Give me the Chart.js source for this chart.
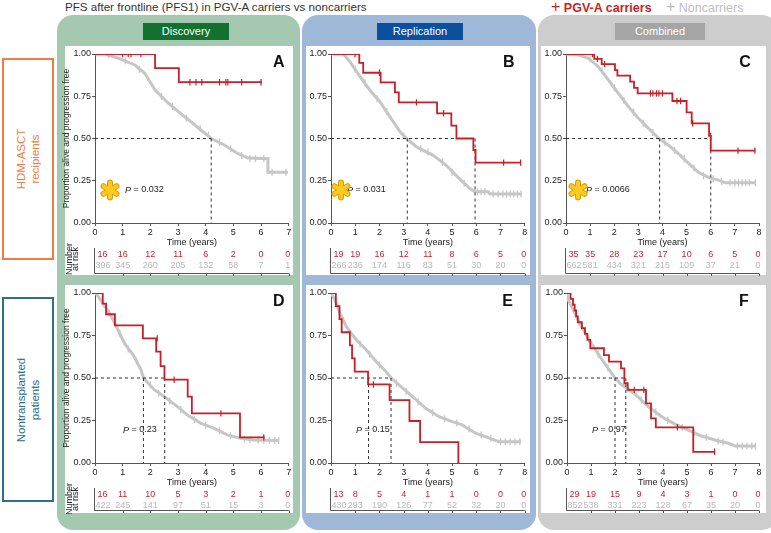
<!DOCTYPE html>
<html><head><meta charset="utf-8">
<script src="https://cdn.jsdelivr.net/npm/chart.js@4.4.1/dist/chart.umd.min.js"></script>
<style>
html,body{margin:0;padding:0;background:#fff}
body{width:771px;height:533px;position:relative;overflow:hidden;font-family:"Liberation Sans",Arial,Helvetica,sans-serif}
.col{position:absolute;top:15px;height:515px;border-radius:16px}
.hdr{position:absolute;top:23px;height:17px;color:#fff;font-size:11px;text-align:center;line-height:17px}
.wp{position:absolute;background:#fff}
.rl{position:absolute;left:2px;width:52px;box-sizing:border-box;border:2px solid}
.rl span{position:absolute;left:50%;top:50%;transform:translate(-50%,-50%) rotate(-90deg);white-space:nowrap;text-align:center;font-size:11.5px;line-height:14px}
canvas{position:absolute}
.lg{position:absolute;top:-1px;font-size:12.5px;line-height:16px;white-space:nowrap}
</style></head><body>
<div style="position:absolute;left:65px;top:0;font-size:11.6px;line-height:14px;color:#333">PFS after frontline (PFS1) in PGV-A carriers vs noncarriers</div>
<div class="lg" style="left:551px;color:#c81f26"><span style="font-size:16px">+</span> <b>PGV-A carriers</b></div>
<div class="lg" style="left:666px;color:#bdbdbd"><span style="font-size:16px">+</span> Noncarriers</div>

<div class="col" style="left:57px;width:243px;background:#a4c9b0"></div>
<div class="col" style="left:302px;width:234px;background:#a0b8d8"></div>
<div class="col" style="left:538px;width:240px;background:#cdcdcd"></div>
<div class="hdr" style="left:143px;width:86px;background:#12712f">Discovery</div>
<div class="hdr" style="left:377px;width:86px;background:#0b4f9f">Replication</div>
<div class="hdr" style="left:615px;width:90px;background:#a5a5a5">Combined</div>

<div class="wp" style="left:65px;top:46px;width:228px;height:229px"></div>
<div class="wp" style="left:306px;top:46px;width:224px;height:229px"></div>
<div class="wp" style="left:541px;top:46px;width:225px;height:229px"></div>
<div class="wp" style="left:65px;top:285px;width:228px;height:228px"></div>
<div class="wp" style="left:306px;top:285px;width:224px;height:228px"></div>
<div class="wp" style="left:541px;top:285px;width:225px;height:228px"></div>

<div class="rl" style="top:58px;height:202px;border-color:#ef7d43"><span style="color:#ef7d43">HDM-ASCT<br>recipients</span></div>
<div class="rl" style="top:297px;height:205px;border-color:#2d6d90"><span style="color:#2d6d90">Nontransplanted<br>patients</span></div>

<canvas id="cA" width="236" height="231" style="left:58px;top:46px"></canvas>
<canvas id="cB" width="225" height="231" style="left:305px;top:46px"></canvas>
<canvas id="cC" width="225" height="231" style="left:541px;top:46px"></canvas>
<canvas id="cD" width="236" height="229" style="left:58px;top:285px"></canvas>
<canvas id="cE" width="225" height="229" style="left:305px;top:285px"></canvas>
<canvas id="cF" width="225" height="229" style="left:541px;top:285px"></canvas>

<script>
// ---------- DATA ----------
const panelLetters = ['A','B','C','D','E','F'];
const pValues = ['0.032','0.031','0.0066','0.23','0.15','0.97'];
const xMaxYears = [7,8,8,7,8,8];

// Panel A (Discovery, HDM-ASCT)
const carriersA = [[0,1],[2.17,0.917],[3.03,0.833],[6.03,0.833]];
const carriersCensA = [[1.0,1],[1.2,1],[1.3,1],[1.66,1],[3.43,0.833],[3.65,0.833],[3.86,0.833],[4.5,0.833],[4.73,0.833],[4.8,0.833],[5.3,0.833],[6.0,0.833]];
const noncarriersA = [[0,1],[0.36,1.0],[0.84,0.975],[1.44,0.935],[1.8,0.886],[2.17,0.787],[2.64,0.71],[3.0,0.66],[3.61,0.58],[4.2,0.50],[4.69,0.46],[5.17,0.41],[5.53,0.384],[6.25,0.38],[6.25,0.30],[6.97,0.30]];
const noncarriersCensA = [[0.5,0.995],[1.1,0.96],[1.6,0.91],[2.4,0.75],[2.8,0.69],[3.3,0.62],[3.8,0.56],[4.1,0.52],[4.5,0.48],[4.9,0.44],[5.3,0.40],[5.6,0.382],[5.8,0.38],[6.1,0.38],[6.4,0.30],[6.9,0.30]];
const mediansA = [4.2];
const riskCarriersA = [16,16,12,11,6,2,0,0];
const riskNonA = [396,345,260,205,132,58,7,1];

// Panel B (Replication, HDM-ASCT)
const carriersB = [[0,1],[1.17,0.947],[1.33,0.889],[2.05,0.832],[2.64,0.773],[2.8,0.714],[4.38,0.649],[4.97,0.576],[5.18,0.50],[5.88,0.432],[5.97,0.357],[7.85,0.357]];
const carriersCensB = [[0.99,1],[2.0,0.889],[3.53,0.714],[4.65,0.649],[7.13,0.357],[7.83,0.357]];
const noncarriersB = [[0,1],[0.51,1],[0.78,0.955],[1.2,0.866],[1.6,0.787],[2.02,0.718],[2.43,0.629],[2.85,0.54],[3.12,0.50],[3.53,0.45],[4.22,0.40],[4.77,0.34],[5.32,0.26],[5.73,0.205],[5.94,0.185],[6.5,0.185],[6.56,0.172],[7.85,0.172]];
const noncarriersCensB = [[1.0,0.91],[1.4,0.83],[1.9,0.735],[2.3,0.66],[3.0,0.515],[3.7,0.44],[4.0,0.42],[4.6,0.36],[5.0,0.30],[5.5,0.235],[6.05,0.185],[6.2,0.185],[6.35,0.185],[6.7,0.172],[6.9,0.172],[7.1,0.172],[7.25,0.172],[7.4,0.172],[7.55,0.172],[7.7,0.172],[7.85,0.172]];
const mediansB = [3.15,5.95];
const riskCarriersB = [19,19,16,12,11,8,6,5,0];
const riskNonB = [266,236,174,116,83,51,30,20,0];

// Panel C (Combined, HDM-ASCT)
const carriersC = [[0,1],[1.17,0.971],[1.48,0.94],[2.03,0.905],[2.13,0.872],[2.66,0.836],[2.82,0.80],[2.97,0.767],[4.41,0.722],[5.0,0.655],[5.21,0.59],[5.93,0.515],[6.0,0.428],[7.85,0.428]];
const carriersCensC = [[1.1,1],[1.3,0.971],[1.6,0.94],[3.5,0.767],[3.6,0.767],[3.75,0.767],[3.85,0.767],[4.0,0.767],[4.6,0.722],[4.75,0.722],[5.25,0.59],[6.0,0.515],[7.13,0.428],[7.83,0.428]];
const noncarriersC = [[0,1],[0.5,0.995],[0.93,0.975],[1.34,0.925],[1.76,0.846],[2.17,0.767],[2.59,0.688],[3.0,0.62],[3.42,0.56],[3.86,0.50],[4.25,0.46],[4.66,0.41],[5.08,0.353],[5.49,0.30],[5.9,0.27],[6.32,0.254],[6.6,0.238],[7.85,0.238]];
const noncarriersCensC = [[1.0,0.97],[1.5,0.9],[2.0,0.8],[2.4,0.725],[2.8,0.655],[3.2,0.59],[3.6,0.535],[4.1,0.475],[4.5,0.43],[4.9,0.38],[5.3,0.325],[5.7,0.28],[6.1,0.262],[6.45,0.246],[6.8,0.238],[7.0,0.238],[7.15,0.238],[7.3,0.238],[7.45,0.238],[7.6,0.238],[7.85,0.238]];
const mediansC = [3.88,6.0];
const riskCarriersC = [35,35,28,23,17,10,6,5,0];
const riskNonC = [662,581,434,321,215,109,37,21,0];

// Panel D (Discovery, nontransplanted)
const carriersD = [[0,1],[0.28,0.938],[0.4,0.875],[0.72,0.81],[1.73,0.733],[2.21,0.655],[2.37,0.57],[2.51,0.49],[3.35,0.39],[3.5,0.292],[5.24,0.151],[6.13,0.151]];
const carriersCensD = [[2.25,0.733],[2.86,0.49],[4.55,0.292],[6.1,0.151]];
const noncarriersD = [[0,1],[0.07,0.99],[0.36,0.92],[0.6,0.86],[0.78,0.80],[1.08,0.70],[1.38,0.635],[1.66,0.55],[1.75,0.50],[2.15,0.43],[2.51,0.39],[2.99,0.33],[3.35,0.28],[3.83,0.233],[4.31,0.204],[4.78,0.165],[5.27,0.145],[5.74,0.135],[6.64,0.133]];
const noncarriersCensD = [[0.5,0.885],[0.9,0.76],[1.2,0.67],[1.5,0.6],[2.0,0.46],[2.3,0.41],[2.7,0.365],[3.1,0.315],[3.6,0.255],[4.0,0.222],[4.5,0.19],[4.9,0.16],[5.4,0.14],[5.6,0.137],[5.9,0.135],[6.1,0.134],[6.3,0.134],[6.5,0.133],[6.64,0.133]];
const mediansD = [1.75,2.52];
const riskCarriersD = [16,11,10,5,3,2,1,0];
const riskNonD = [422,245,141,97,51,15,3,0];

// Panel E (Replication, nontransplanted)
const carriersE = [[0,1],[0.2,0.923],[0.35,0.846],[0.44,0.769],[0.78,0.692],[0.87,0.615],[0.98,0.538],[1.53,0.462],[2.42,0.37],[3.24,0.247],[3.68,0.123],[5.26,0.123],[5.26,0]];
const carriersCensE = [[1.75,0.462]];
const noncarriersE = [[0,1],[0.16,0.96],[0.37,0.88],[0.64,0.80],[1.05,0.724],[1.46,0.665],[1.87,0.596],[2.28,0.537],[2.49,0.50],[2.96,0.44],[3.37,0.39],[3.92,0.32],[4.47,0.272],[5.01,0.243],[5.42,0.224],[5.97,0.175],[6.38,0.155],[6.93,0.125],[7.85,0.125]];
const noncarriersCensE = [[0.5,0.84],[0.8,0.76],[1.2,0.7],[1.6,0.64],[2.0,0.575],[2.7,0.47],[3.1,0.42],[3.6,0.36],[4.2,0.295],[4.7,0.26],[5.2,0.235],[5.7,0.2],[6.2,0.165],[6.6,0.145],[7.0,0.125],[7.2,0.125],[7.4,0.125],[7.6,0.125],[7.8,0.125]];
const mediansE = [1.55,2.48];
const riskCarriersE = [13,8,5,4,1,1,0,0,0];
const riskNonE = [430,293,190,126,77,52,32,20,0];

// Panel F (Combined, nontransplanted)
const carriersF = [[0,1],[0.15,0.966],[0.25,0.931],[0.32,0.897],[0.38,0.862],[0.45,0.828],[0.62,0.793],[0.75,0.759],[0.85,0.724],[0.97,0.675],[1.54,0.635],[1.75,0.596],[2.25,0.557],[2.39,0.469],[2.53,0.43],[3.29,0.351],[3.5,0.263],[3.7,0.21],[5.26,0.066],[6.17,0.066]];
const carriersCensF = [[2.8,0.43],[3.2,0.43],[4.6,0.21],[6.15,0.066]];
const noncarriersF = [[0,1],[0.05,0.96],[0.33,0.88],[0.61,0.80],[1.03,0.70],[1.45,0.61],[2.0,0.50],[2.28,0.46],[2.83,0.406],[3.39,0.331],[3.95,0.272],[4.5,0.229],[5.05,0.194],[5.6,0.159],[6.17,0.135],[6.72,0.116],[7.0,0.10],[7.85,0.10]];
const noncarriersCensF = [[0.5,0.83],[0.9,0.73],[1.3,0.64],[1.7,0.56],[2.5,0.44],[3.1,0.37],[3.7,0.3],[4.2,0.25],[4.8,0.21],[5.3,0.18],[5.8,0.15],[6.3,0.13],[6.5,0.124],[7.1,0.10],[7.3,0.10],[7.5,0.10],[7.7,0.10],[7.85,0.10]];
const mediansF = [2.0,2.45];
const riskCarriersF = [29,19,15,9,4,3,1,0,0];
const riskNonF = [852,538,331,223,128,67,35,20,0];

// ---------- STYLE ----------
const RED = '#c81f26', GRAY = '#c6c6c6', RISKRED = '#d2232a', RISKGRAY = '#b8b8b8', INK = '#222';
const FONT = '"Liberation Sans", Arial, Helvetica, sans-serif';

function pts(a){ return a.map(p => ({x:p[0], y:p[1]})); }

function drawStar(ctx, x, y){
  ctx.save(); ctx.lineCap = 'round';
  for (const [w,c] of [[6,'#e09a0a'],[4,'#fdca1f']]) {
    ctx.strokeStyle = c; ctx.lineWidth = w; ctx.beginPath();
    for (let k = 0; k < 3; k++) {
      const a = Math.PI/2 + k*Math.PI/3;
      ctx.moveTo(x + 7.5*Math.cos(a), y + 7.5*Math.sin(a));
      ctx.lineTo(x - 7.5*Math.cos(a), y - 7.5*Math.sin(a));
    }
    ctx.stroke();
  }
  ctx.restore();
}

function makePanel(id, cfg){
  const maxMed = Math.max(...cfg.medians);
  const datasets = [
    {data: pts(cfg.car), showLine:true, stepped:true, borderColor:RED, borderWidth:1.8, pointRadius:0, order:0},
    {data: pts(cfg.carC), showLine:false, pointStyle:'line', rotation:90, pointRadius:3.2, borderColor:RED, backgroundColor:RED, pointBorderWidth:1.2, order:1},
    {data: [{x:0,y:0.5},{x:maxMed,y:0.5}], showLine:true, borderColor:'#333', borderWidth:1, borderDash:[3,3], pointRadius:0, order:2},
  ];
  cfg.medians.forEach(m => datasets.push({data:[{x:m,y:0.5},{x:m,y:0}], showLine:true, borderColor:'#333', borderWidth:1, borderDash:[3,3], pointRadius:0, order:2}));
  datasets.push({data: pts(cfg.nonC), showLine:false, pointStyle:'line', rotation:90, pointRadius:3.5, borderColor:GRAY, pointBorderWidth:1.3, order:3});
  datasets.push({data: pts(cfg.non), showLine:true, borderColor:GRAY, borderWidth:3, pointRadius:0, tension:0, order:4});

  const extras = {
    id:'extras',
    afterDraw(chart){
      const ctx = chart.ctx, ca = chart.chartArea, xs = chart.scales.x;
      ctx.save();
      ctx.fillStyle = INK; ctx.textAlign = 'center'; ctx.textBaseline = 'middle';
      ctx.font = '9px ' + FONT;
      ctx.fillText('Time (years)', (ca.left + ca.right)/2, ca.bottom + 20);
      if (cfg.yTitle) {
        ctx.font = '8.5px ' + FONT;
        ctx.save(); ctx.translate(ca.left - 28, (ca.top + ca.bottom)/2); ctx.rotate(-Math.PI/2);
        ctx.fillText('Proportion alive and progression free', 0, 0); ctx.restore();
        ctx.font = '9px ' + FONT;
        ctx.save(); ctx.translate(ca.left - 25.5, ca.bottom + 36); ctx.rotate(-Math.PI/2);
        ctx.fillText('Number', 0, 0); ctx.restore();
        ctx.save(); ctx.translate(ca.left - 19, ca.bottom + 36); ctx.rotate(-Math.PI/2);
        ctx.fillText('at risk', 0, 0); ctx.restore();
      }
      // risk table
      ctx.font = '9px ' + FONT;
      const n = cfg.riskCar.length;
      const place = (v, i, y, col) => {
        ctx.fillStyle = col;
        let x = xs.getPixelForValue(i);
        if (i === 0) { ctx.textAlign = 'left'; x = ca.left + (col === RISKRED ? 2.5 : 0.5); }
        else if (i === n - 1) { ctx.textAlign = 'right'; x = ca.right + 1.5; }
        else ctx.textAlign = 'center';
        ctx.fillText(String(v), x, y);
      };
      cfg.riskCar.forEach((v,i) => place(v, i, ca.bottom + 32, RISKRED));
      cfg.riskNon.forEach((v,i) => place(v, i, ca.bottom + 43, RISKGRAY));
      ctx.strokeStyle = '#555'; ctx.lineWidth = 1; ctx.beginPath();
      const ly = Math.round(ca.bottom + cfg.lineOff) + 0.5;
      ctx.moveTo(Math.round(ca.left) - 0.5, ca.bottom + 25); ctx.lineTo(Math.round(ca.left) - 0.5, ly);
      ctx.lineTo(ca.right, ly);
      for (let i = 1; i <= cfg.xmax; i++) { const px = Math.round(xs.getPixelForValue(i)) + 0.5; ctx.moveTo(px, ly); ctx.lineTo(px, ly + 2.5); }
      ctx.stroke();
      // P value
      ctx.textAlign = 'left'; ctx.fillStyle = INK;
      const px = ca.left + cfg.pOff, py = ca.bottom - 33;
      ctx.font = 'italic 9px ' + FONT; ctx.fillText('P', px, py);
      const w = ctx.measureText('P').width;
      ctx.font = '9px ' + FONT; ctx.fillText(' = ' + cfg.p, px + w, py);
      if (cfg.star) drawStar(ctx, ca.left + cfg.star, py);
      // letter
      ctx.textAlign = 'center'; ctx.font = 'bold 16px ' + FONT; ctx.fillStyle = '#111';
      ctx.fillText(cfg.letter, ca.right + cfg.letterDx, ca.top + 9);
      ctx.restore();
    }
  };

  new Chart(document.getElementById(id), {
    type:'scatter',
    data:{datasets},
    options:{
      responsive:false, animation:false,
      layout:{padding:{left:0, right:cfg.padR, top:8, bottom:0}},
      plugins:{legend:{display:false}, tooltip:{enabled:false}},
      scales:{
        x:{type:'linear', min:0, max:cfg.xmax,
           afterFit(s){ s.height = cfg.xH; },
           ticks:{stepSize:1, autoSkip:false, maxRotation:0, color:INK, font:{size:9, family:FONT}, padding:1},
           grid:{display:true, drawOnChartArea:false, drawTicks:true, tickLength:3, color:'#555'},
           border:{display:true, color:'#555', width:1}},
        y:{type:'linear', min:0, max:1,
           afterFit(s){ s.width = cfg.yW; },
           ticks:{stepSize:0.25, color:INK, font:{size:9, family:FONT}, padding:1, callback:v => v.toFixed(2)},
           grid:{display:true, drawOnChartArea:false, drawTicks:true, tickLength:3, color:'#555'},
           border:{display:true, color:'#555', width:1}}
      }
    },
    plugins:[extras]
  });
}

makePanel('cA', {car:carriersA, carC:carriersCensA, non:noncarriersA, nonC:noncarriersCensA, medians:mediansA, riskCar:riskCarriersA, riskNon:riskNonA,
  xmax:xMaxYears[0], p:pValues[0], letter:panelLetters[0], yTitle:true, yW:37, padR:5, xH:54, lineOff:49.5, pOff:30, star:15, letterDx:-10});
makePanel('cB', {car:carriersB, carC:carriersCensB, non:noncarriersB, nonC:noncarriersCensB, medians:mediansB, riskCar:riskCarriersB, riskNon:riskNonB,
  xmax:xMaxYears[1], p:pValues[1], letter:panelLetters[1], yTitle:false, yW:26, padR:5, xH:54, lineOff:49.5, pOff:16, star:10, letterDx:-16});
makePanel('cC', {car:carriersC, carC:carriersCensC, non:noncarriersC, nonC:noncarriersCensC, medians:mediansC, riskCar:riskCarriersC, riskNon:riskNonC,
  xmax:xMaxYears[2], p:pValues[2], letter:panelLetters[2], yTitle:false, yW:25, padR:7, xH:54, lineOff:49.5, pOff:20, star:12, letterDx:-14});
makePanel('cD', {car:carriersD, carC:carriersCensD, non:noncarriersD, nonC:noncarriersCensD, medians:mediansD, riskCar:riskCarriersD, riskNon:riskNonD,
  xmax:xMaxYears[3], p:pValues[3], letter:panelLetters[3], yTitle:true, yW:37, padR:4, xH:51, lineOff:47, pOff:28, star:0, letterDx:-10});
makePanel('cE', {car:carriersE, carC:carriersCensE, non:noncarriersE, nonC:noncarriersCensE, medians:mediansE, riskCar:riskCarriersE, riskNon:riskNonE,
  xmax:xMaxYears[4], p:pValues[4], letter:panelLetters[4], yTitle:false, yW:26, padR:4, xH:51, lineOff:47, pOff:25, star:0, letterDx:-17});
makePanel('cF', {car:carriersF, carC:carriersCensF, non:noncarriersF, nonC:noncarriersCensF, medians:mediansF, riskCar:riskCarriersF, riskNon:riskNonF,
  xmax:xMaxYears[5], p:pValues[5], letter:panelLetters[5], yTitle:false, yW:26, padR:7, xH:51, lineOff:47, pOff:25, star:0, letterDx:-15});
</script>
</body></html>
